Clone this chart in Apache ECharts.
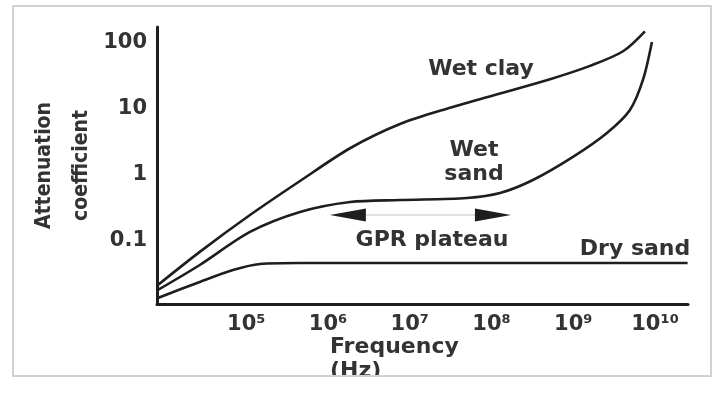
<!DOCTYPE html>
<html>
<head>
<meta charset="utf-8">
<script src="https://cdn.jsdelivr.net/npm/echarts@6/dist/echarts.min.js"></script>
<style>
html,body{margin:0;padding:0;background:#fff;}
#chart{width:713px;height:394px;}
</style>
</head>
<body>
<div id="chart"></div>
<script>
// ---- data (frequency in Hz, attenuation coefficient) ----
const wetClayFreq = [8.3e3, 2.7e4, 1.11e5, 4.54e5, 1.86e6, 7.59e6, 3.10e7, 1.27e8, 5.19e8, 1.60e9, 4.06e9, 7.53e9];
const wetClayAtt  = [0.0215, 0.068, 0.245, 0.80, 2.5, 5.8, 10.2, 16.8, 27.6, 43.9, 73.0, 146];

const wetSandFreq = [8.3e3, 2.7e4, 1.11e5, 4.54e5, 1.86e6, 7.59e6, 5.01e7, 1.27e8, 3.21e8, 9.91e8, 2.58e9, 4.93e9, 7.11e9, 9.16e9];
const wetSandAtt  = [0.0181, 0.0431, 0.136, 0.272, 0.385, 0.413, 0.444, 0.527, 0.828, 1.85, 4.25, 9.46, 26.9, 101];

const drySandFreq = [8.3e3, 2.7e4, 6.87e4, 1.47e5, 4.54e5, 2.5e10];
const drySandAtt  = [0.0137, 0.0239, 0.0362, 0.0447, 0.0462, 0.0462];

const plateauFreq = [1.75e6, 1.04e8];
const plateauAtt  = [0.245, 0.245];

const annotationText = ['Wet clay', 'Wet\nsand', 'GPR plateau', 'Dry sand'];
const annotationFreq = [7.43e7, 6.10e7, 1.87e7, 5.69e9];
const annotationAtt  = [39.4, 1.55, 0.103, 0.0752];

const xTickValues = [1e5, 1e6, 1e7, 1e8, 1e9, 1e10];
const xTickLabels = ['10\u2075', '10\u2076', '10\u2077', '10\u2078', '10\u2079', '10\u00B9\u2070'];
const yTickValues = [0.1, 1, 10, 100];
const yTickLabels = ['0.1', '1', '10', '100'];

const xMin = 8.09e3, xMax = 2.53e10;
const yMin = 0.01109, yMax = 169.7;

// ---- helpers ----
function pairs(xs, ys) { return xs.map((x, i) => [x, ys[i]]); }
function tickLabel(values, labels) {
  return function (v) {
    const lv = Math.log10(v);
    for (let i = 0; i < values.length; i++) {
      if (Math.abs(Math.log10(values[i]) - lv) < 1e-6) return labels[i];
    }
    return '';
  };
}

const FONT = "'DejaVu Sans', 'Liberation Sans', sans-serif";
const INK = '#1e1e1e';
const TEXT = '#333';

const curveStyle = { color: INK, width: 2.6 };

const chart = echarts.init(document.getElementById('chart'), null, { renderer: 'canvas' });
chart.setOption({
  animation: false,
  backgroundColor: '#fff',
  grid: { left: 157, right: 25, top: 27, bottom: 90 },
  xAxis: {
    type: 'log',
    logBase: 10,
    min: xMin,
    max: xMax,
    name: '{a|Frequency}\n{a|(Hz)}',
    nameLocation: 'middle',
    nameGap: 31,
    nameMoveOverlap: false,
    nameTextStyle: {
      rich: {
        a: { width: 185, align: 'left', fontSize: 22, fontWeight: 'bold', fontFamily: FONT, color: TEXT, lineHeight: 24 }
      }
    },
    axisLine: { show: true, onZero: false, lineStyle: { color: INK, width: 3 } },
    axisTick: { show: false },
    splitLine: { show: false },
    axisLabel: {
      margin: 10,
      fontSize: 21,
      fontWeight: 'bold',
      fontFamily: FONT,
      color: TEXT,
      formatter: tickLabel(xTickValues, xTickLabels)
    }
  },
  yAxis: {
    type: 'log',
    logBase: 10,
    min: yMin,
    max: yMax,
    name: 'Attenuation\ncoefficient',
    nameLocation: 'middle',
    nameRotate: 90,
    nameGap: 57,
    nameMoveOverlap: false,
    nameTextStyle: {
      fontFamily: "'DejaVu Sans Condensed', 'Liberation Sans Narrow', 'DejaVu Sans', sans-serif",
      fontSize: 21,
      fontWeight: 'bold',
      color: TEXT,
      lineHeight: 37
    },
    axisLine: { show: true, onZero: false, lineStyle: { color: INK, width: 3 } },
    axisTick: { show: false },
    splitLine: { show: false },
    axisLabel: {
      margin: 10,
      fontSize: 21,
      fontWeight: 'bold',
      fontFamily: FONT,
      color: TEXT,
      formatter: tickLabel(yTickValues, yTickLabels)
    }
  },
  series: [
    {
      name: 'Wet clay', type: 'line', data: pairs(wetClayFreq, wetClayAtt),
      smooth: 0.3, symbol: 'none', lineStyle: curveStyle, silent: true
    },
    {
      name: 'Wet sand', type: 'line', data: pairs(wetSandFreq, wetSandAtt),
      smooth: 0.3, symbol: 'none', lineStyle: curveStyle, silent: true
    },
    {
      name: 'Dry sand', type: 'line', data: pairs(drySandFreq, drySandAtt),
      smooth: 0.3, symbol: 'none', lineStyle: curveStyle, silent: true
    },
    {
      name: 'GPR plateau', type: 'line',
      data: [
        { value: [plateauFreq[0], plateauAtt[0]], symbolRotate: 90 },
        { value: [plateauFreq[1], plateauAtt[1]], symbolRotate: -90 }
      ],
      symbol: 'triangle', symbolSize: [13, 36], showSymbol: true,
      itemStyle: { color: INK, opacity: 1 },
      lineStyle: { color: '#c4c4c4', width: 1 },
      silent: true, z: 3
    },
    {
      name: 'Annotations', type: 'scatter',
      data: annotationText.map((t, i) => ({ name: t, value: [annotationFreq[i], annotationAtt[i]] })),
      symbolSize: 0,
      itemStyle: { opacity: 1 },
      label: {
        show: true, position: 'inside', formatter: '{b}', opacity: 1,
        fontSize: 22, fontWeight: 'bold', fontFamily: FONT, color: TEXT, lineHeight: 24
      },
      silent: true, z: 4
    }
  ],
  graphic: [
    { type: 'rect', silent: true, z: 101, shape: { x: 0, y: 375, width: 713, height: 19 },
      style: { fill: '#fff' } },
    { type: 'rect', silent: true, z: 102, shape: { x: 13, y: 6, width: 698, height: 370 },
      style: { fill: 'none', stroke: '#d2d2d2', lineWidth: 2 } }
  ]
});
</script>
</body>
</html>
